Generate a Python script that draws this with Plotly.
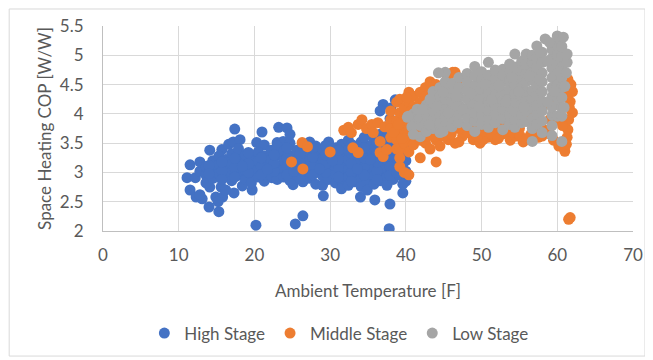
import plotly.graph_objects as go

# ---- data: (ambient temperature [F], COP [W/W]) ----
high_stage = [
    (11.5,3.13),(11.1,2.91),(12.2,2.91),(11.5,2.70),(12.3,2.58),(13.1,2.55),(14.0,2.41),(15.3,2.33),
    (14.9,2.58),(15.8,2.58),(15.2,2.50),(14.1,2.75),(15.6,2.75),(17.3,2.65),(18.4,2.77),(19.7,2.70),
    (12.8,2.62),(22.3,2.91),(20.2,2.10),(25.4,2.12),(26.4,2.26),(25.1,2.79),(17.4,3.74),(21.0,3.69),
    (23.2,3.77),(24.3,3.76),(14.1,3.38),(15.7,3.39),(16.6,3.48),(17.2,3.52),(18.1,3.56),(20.3,3.51),
    (21.3,3.47),(23.0,3.51),(23.8,3.53),(29.1,2.60),(34.0,2.58),(35.9,2.53),(37.9,2.46),(39.6,2.65),
    (37.8,2.04),(37.0,4.16),(38.6,4.24),(36.6,4.05),(38.0,4.10),
    (12.8,3.02),(12.8,3.18),(13.6,2.95),(13.6,3.10),(13.6,2.82),(14.5,3.05),(14.5,3.20),(14.5,2.90),
    (15.3,2.98),(15.3,3.14),(15.3,3.28),(16.2,3.08),(16.2,2.93),(16.2,3.22),(16.2,2.70),
    (17.0,3.00),(17.0,3.15),(17.0,3.32),(17.0,2.86),(17.9,3.10),(17.9,2.95),(17.9,3.25),(17.9,3.40),
    (18.8,3.03),(18.8,3.18),(18.8,2.88),(18.8,3.30),(19.6,3.12),(19.6,2.97),(19.6,3.26),(19.6,2.82),
    (20.5,3.05),(20.5,3.20),(20.5,2.92),(20.5,3.35),(21.3,3.15),(21.3,3.00),(21.3,3.28),(21.3,2.85),
    (22.2,3.08),(22.2,2.94),(22.2,3.22),(22.2,3.38),(23.0,3.12),(23.0,2.98),(23.0,3.30),(23.0,2.88),(23.0,3.45),
    (23.9,3.05),(23.9,3.20),(23.9,2.92),(23.9,3.36),(24.7,3.15),(24.7,3.00),(24.7,3.28),(24.7,2.86),(24.7,3.50),(24.7,3.65),
    (25.6,3.08),(25.6,3.22),(25.6,2.95),(25.6,3.38),(26.4,3.12),(26.4,3.28),(26.4,2.98),(26.4,2.84),(26.4,3.45),
    (27.3,3.05),(27.3,3.20),(27.3,3.35),(27.3,2.90),(27.3,3.52),(28.1,3.15),(28.1,3.00),(28.1,3.30),(28.1,2.80),(28.1,3.45),
    (29.0,3.08),(29.0,3.24),(29.0,2.94),(29.0,3.40),(29.0,2.78),(29.8,3.18),(29.8,3.02),(29.8,3.34),(29.8,2.88),(29.8,3.52),
    (30.7,3.10),(30.7,3.25),(30.7,2.96),(30.7,3.42),(30.7,2.82),(31.5,3.15),(31.5,3.00),(31.5,3.32),(31.5,2.86),(31.5,3.48),(31.5,2.72),
    (32.4,3.05),(32.4,3.22),(32.4,3.38),(32.4,2.92),(32.4,2.78),(32.4,3.55),(33.2,3.12),(33.2,2.98),(33.2,3.28),(33.2,3.45),(33.2,2.84),
    (34.1,3.05),(34.1,3.20),(34.1,3.36),(34.1,2.90),(34.1,2.76),(34.1,3.52),(34.9,3.15),(34.9,3.00),(34.9,3.30),(34.9,2.86),(34.9,3.46),(34.9,2.70),
    (35.8,3.08),(35.8,3.24),(35.8,2.94),(35.8,3.40),(35.8,2.80),(35.8,3.58),(36.6,3.12),(36.6,2.98),(36.6,3.30),(36.6,2.86),(36.6,3.48),(36.6,3.65),
    (37.5,3.05),(37.5,3.22),(37.5,2.92),(37.5,3.40),(37.5,3.60),(37.5,2.78),(38.3,3.15),(38.3,3.00),(38.3,3.35),(38.3,3.55),(38.3,3.80),(38.3,2.88),
    (39.2,3.08),(39.2,3.25),(39.2,3.45),(39.2,2.95),(39.2,3.70),(40.0,3.20),(40.0,3.02),(40.0,3.40),(40.0,2.85),
    (14.0,3.12),(14.0,2.98),(15.7,3.02),(15.7,3.18),(15.7,2.88),(17.4,3.08),(17.4,2.92),(17.4,3.24),
    (19.2,3.00),(19.2,3.15),(19.2,3.34),(20.9,3.10),(20.9,2.96),(20.9,3.25),(22.6,3.02),(22.6,3.16),(22.6,3.30),
    (24.3,3.10),(24.3,2.96),(24.3,3.25),(24.3,3.42),(26.0,3.05),(26.0,3.18),(26.0,3.32),(26.0,2.90),
    (27.7,3.10),(27.7,2.96),(27.7,3.26),(27.7,3.42),(29.4,3.00),(29.4,3.15),(29.4,3.30),(29.4,3.46),
    (31.1,3.08),(31.1,2.92),(31.1,3.22),(31.1,3.38),(32.8,3.00),(32.8,3.15),(32.8,3.32),(32.8,2.85),(32.8,3.48),
    (34.5,3.10),(34.5,2.95),(34.5,3.25),(34.5,3.42),(34.5,3.60),(36.2,3.02),(36.2,3.18),(36.2,3.35),(36.2,2.88),(36.2,3.52),
    (37.9,3.10),(37.9,2.95),(37.9,3.28),(37.9,3.48),(37.9,3.70),(37.9,3.92),(39.6,3.15),(39.6,3.35),(39.6,3.55),(39.6,3.85),(39.6,2.80),
    (18.4,3.10),(21.7,3.05),(25.2,3.02),(28.6,3.06),(30.3,3.20),(33.6,3.06),(35.3,3.22),(36.9,3.40),(38.8,3.00),
]

middle_stage = [
    (24.9,3.18),(26.4,3.06),(26.3,3.51),(27.0,3.44),(30.0,3.35),(33.0,3.42),(33.7,3.34),(36.6,3.34),(37.0,3.27),
    (31.8,3.72),(32.4,3.77),(32.8,3.68),(33.7,3.82),(34.2,3.90),(34.8,3.75),(35.5,3.82),(35.7,3.68),(36.3,3.85),
    (36.6,3.53),(37.2,3.78),(37.5,3.39),
    (38.0,3.90),(38.0,3.75),(38.0,3.60),(38.0,4.05),(38.8,3.73),(38.8,4.20),(38.8,3.88),(38.8,3.55),(38.8,3.40),
    (39.2,3.39),(39.2,3.10),(39.2,4.25),(39.2,4.02),(39.2,3.25),(39.8,3.65),(39.8,3.80),(39.8,3.95),(39.8,4.10),(39.8,3.50),(39.8,3.00),
    (40.4,4.37),(40.4,3.72),(40.4,3.58),(40.4,3.86),(40.4,4.20),(40.4,3.35),(40.4,2.96),
    (41.0,4.30),(41.0,4.12),(41.0,3.95),(41.0,3.78),(41.0,3.62),(41.0,3.47),
    (41.9,4.37),(41.9,3.25),(41.9,3.55),(41.9,3.70),(41.9,4.20),(42.6,4.45),(42.6,3.50),(42.6,3.62),(42.6,4.30),
    (43.2,4.55),(43.2,3.40),(44.0,3.18),(44.0,3.55),(44.0,3.65),(44.0,4.50),
    (44.5,3.45),(45.6,3.56),(46.5,3.50),(47.5,3.62),(48.9,3.56),(49.8,3.50),(50.8,3.60),(51.8,3.56),(52.7,3.65),
    (53.8,3.55),(54.6,3.62),(55.5,3.52),(56.5,3.65),(57.5,3.60),(58.5,3.72),(59.5,3.55),(60.2,3.45),
    (61.4,4.59),(62.0,4.38),(61.7,4.21),(62.0,4.02),(61.4,3.73),(61.3,3.60),(61.0,3.36),(61.5,3.90),(61.8,4.50),
    (61.2,3.48),(61.5,2.20),(61.7,2.23),
    (46.2,4.71),(45.5,4.62),(47.0,4.60),(46.5,4.71),
    (43.0,4.10),(45.0,3.85),(47.0,3.75),(49.0,3.80),(51.0,3.75),(53.0,3.80),(55.0,3.75),(57.0,3.85),(59.0,3.90),
    (60.0,4.20),(60.5,4.45),(58.0,4.10),(56.0,4.00),(52.0,4.00),(48.0,4.00),(44.0,4.30),
    (56.1,3.90),(57.3,3.85),(60.0,3.90),(52.0,3.73),(48.9,3.61),(50.2,3.56),
    (38.4,3.68),(39.0,3.82),(39.5,3.58),(40.1,4.28),(40.7,4.05),(41.4,3.88),(42.2,3.98),(42.9,3.78),(43.6,3.62),
    (45.0,3.62),(46.0,3.66),(47.0,3.52),(48.2,3.68),(49.4,3.62),(50.4,3.70),(51.3,3.66),(52.2,3.58),(53.3,3.70),
    (54.2,3.68),(55.1,3.62),(56.0,3.58),(57.0,3.70),(58.0,3.62),(59.0,3.66),(60.7,3.80),(61.6,4.10),(61.2,4.30),
]

low_stage = [
    (40.2,3.94),(41.0,3.90),(41.0,4.00),(41.9,3.61),(41.9,3.80),(41.9,3.95),
    (42.7,3.85),(42.7,4.00),(42.7,4.15),(42.7,3.70),(43.6,4.38),(43.6,3.90),(43.6,4.05),(43.6,4.20),(43.6,3.75),
    (44.5,3.68),(44.5,3.85),(44.5,4.00),(44.5,4.15),(44.5,4.30),(44.5,4.45),
    (45.2,4.71),(45.2,3.80),(45.2,3.95),(45.2,4.10),(45.2,4.25),(45.2,4.40),(45.2,4.55),
    (46.1,3.78),(46.1,3.92),(46.1,4.08),(46.1,4.22),(46.1,4.38),(46.1,4.52),
    (47.0,3.85),(47.0,4.00),(47.0,4.15),(47.0,4.30),(47.0,4.45),(47.0,4.62),
    (48.1,4.69),(48.1,3.80),(48.1,3.95),(48.1,4.10),(48.1,4.25),(48.1,4.40),(48.1,4.55),
    (49.1,4.81),(49.1,3.70),(49.1,3.88),(49.1,4.02),(49.1,4.18),(49.1,4.32),(49.1,4.48),(49.1,4.65),
    (50.0,3.82),(50.0,3.98),(50.0,4.12),(50.0,4.28),(50.0,4.42),(50.0,4.58),(50.0,4.72),
    (50.9,4.88),(50.9,3.77),(50.9,3.92),(50.9,4.06),(50.9,4.22),(50.9,4.36),(50.9,4.52),(50.9,4.66),
    (51.8,3.85),(51.8,4.00),(51.8,4.15),(51.8,4.30),(51.8,4.45),(51.8,4.60),(51.8,4.75),
    (52.8,4.76),(52.8,3.73),(52.8,3.92),(52.8,4.08),(52.8,4.22),(52.8,4.38),(52.8,4.55),(52.8,4.66),
    (53.7,3.82),(53.7,3.98),(53.7,4.12),(53.7,4.28),(53.7,4.42),(53.7,4.58),(53.7,4.72),(53.7,4.85),
    (54.4,5.02),(54.4,3.77),(54.4,3.90),(54.4,4.05),(54.4,4.20),(54.4,4.35),(54.4,4.50),(54.4,4.65),(54.4,4.80),
    (55.3,3.85),(55.3,4.00),(55.3,4.15),(55.3,4.30),(55.3,4.45),(55.3,4.60),(55.3,4.75),(55.3,4.90),
    (55.9,5.02),(55.9,3.87),(55.9,4.05),(55.9,4.22),(55.9,4.38),(55.9,4.55),(55.9,4.70),(55.9,4.85),
    (56.7,3.53),(56.7,3.75),(56.7,3.92),(56.7,4.10),(56.7,4.25),(56.7,4.40),(56.7,4.58),(56.7,4.72),(56.7,4.88),(56.7,5.00),
    (57.3,5.16),(57.3,3.82),(57.3,4.00),(57.3,4.15),(57.3,4.32),(57.3,4.48),(57.3,4.64),(57.3,4.80),(57.3,4.95),
    (58.0,3.68),(58.0,3.88),(58.0,4.05),(58.0,4.22),(58.0,4.38),(58.0,4.55),(58.0,4.70),(58.0,4.88),(58.0,5.05),
    (58.4,5.28),
    (59.3,3.63),(59.3,3.80),(59.3,3.98),(59.3,4.12),(59.3,4.30),(59.3,4.45),(59.3,4.62),(59.3,4.78),(59.3,4.95),(59.3,5.10),
    (60.0,5.33),(60.0,3.96),(60.0,4.15),(60.0,4.32),(60.0,4.50),(60.0,4.68),(60.0,4.85),(60.0,5.00),(60.0,5.18),
    (60.6,3.53),(60.6,3.96),(60.6,4.11),(60.6,4.28),(60.6,4.45),(60.6,4.62),(60.6,4.80),(60.6,4.98),(60.6,5.15),
    (60.8,5.31),(61.3,4.88),(61.3,5.02),(61.0,4.47),(60.9,4.11),
    (40.3,3.96),(41.5,4.08),(43.2,4.25),(44.9,4.37),(44.3,4.70),(40.8,3.78),(41.0,3.65),(44.9,3.70),
    (42.2,4.08),(43.1,3.82),(44.0,4.12),(45.6,4.02),(46.6,4.30),(47.5,4.08),(48.6,4.35),(49.6,4.12),
    (50.4,4.50),(51.3,4.24),(52.3,4.48),(53.2,4.20),(54.0,4.62),(54.9,4.38),(55.6,4.12),(56.3,4.65),
    (57.7,4.58),(58.7,4.90),(59.6,4.38),(60.3,4.72),(58.7,4.20),(57.7,5.06),(59.0,5.22),(61.2,4.70),
]

series_names = ["High Stage", "Middle Stage", "Low Stage"]
series_colors = ["#4472C4", "#ED7D31", "#A5A5A5"]
x_ticks = [0, 10, 20, 30, 40, 50, 60, 70]
y_ticks = [2, 2.5, 3, 3.5, 4, 4.5, 5, 5.5]

FONT = "Lato"
GREY = "#595959"
FS = 17

fig = go.Figure()
for name, color, pts in zip(series_names, series_colors, [high_stage, middle_stage, low_stage]):
    fig.add_trace(go.Scatter(
        x=[p[0] for p in pts], y=[p[1] for p in pts],
        mode="markers", name=name,
        marker=dict(color=color, size=11, line=dict(width=0)),
    ))

# page body adds an 8px offset, so the figure is 645x352
fig.update_layout(
    width=645, height=352,
    margin=dict(l=95, r=20, t=18, b=129, autoexpand=False),
    paper_bgcolor="white", plot_bgcolor="white",
    font=dict(family=FONT, color=GREY, size=FS),
    showlegend=True,
    legend=dict(orientation="h", x=0.445, xanchor="center", y=-0.5, yanchor="middle",
                font=dict(size=FS, color=GREY), itemwidth=30, tracegroupgap=0),
    shapes=[dict(type="rect", xref="paper", yref="paper",
                 x0=-0.177, x1=1.0226, y0=-0.61, y1=1.083,
                 line=dict(color="#D9D9D9", width=1), layer="below")],
)
fig.update_xaxes(
    range=[0, 70], tickvals=x_ticks, showgrid=True, gridcolor="#D9D9D9", gridwidth=1,
    zeroline=False, showline=True, linecolor="#BFBFBF", linewidth=1, automargin=False,
    ticks="", tickfont=dict(size=FS, color=GREY), ticklabelstandoff=9,
    title=dict(text="Ambient Temperature [F]", font=dict(size=FS, color=GREY), standoff=20),
)
fig.update_yaxes(
    range=[2, 5.5], tickvals=y_ticks, ticktext=[str(v) for v in y_ticks],
    showgrid=True, gridcolor="#D9D9D9", gridwidth=1,
    zeroline=False, showline=True, linecolor="#BFBFBF", linewidth=1, automargin=False,
    ticks="", tickfont=dict(size=FS, color=GREY), ticklabelstandoff=15,
    title=dict(text="Space Heating COP [W/W]", font=dict(size=FS, color=GREY), standoff=3),
)

fig.write_html("out.html")
